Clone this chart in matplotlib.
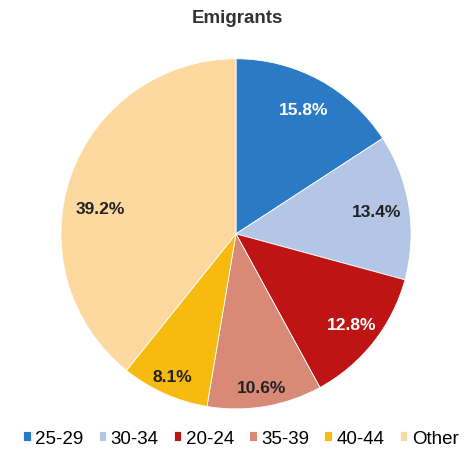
import numpy as np
import matplotlib.pyplot as plt

plt.rcParams['font.family'] = ['Liberation Sans', 'DejaVu Sans']

# Data
labels = ['25-29', '30-34', '20-24', '35-39', '40-44', 'Other']
shares = [15.8, 13.4, 12.8, 10.6, 8.1, 39.2]
colors = ['#2a7ac6', '#b3c6e6', '#bf1414', '#d98a76', '#f6bb0e', '#fdd9a0']
text_colors = ['white', '#222222', 'white', '#222222', '#222222', '#222222']
# label placement (fraction of radius, angle nudge in degrees)
label_dist = [0.81, 0.81, 0.84, 0.89, 0.89, 0.79]
label_nudge = [0, 0, 0, 0, 0, 9]

fig = plt.figure(figsize=(4.65, 4.56), dpi=100)
ax = fig.add_axes([0.131, 0.101, 0.753, 0.768])

wedges, texts, autotexts = ax.pie(
    shares, colors=colors, startangle=90, counterclock=False,
    autopct='%1.1f%%',
    wedgeprops=dict(edgecolor='white', linewidth=0.6),
    normalize=True)
for w, t, c, d, n in zip(wedges, autotexts, text_colors, label_dist, label_nudge):
    mid = np.deg2rad((w.theta1 + w.theta2) / 2 + n)
    t.set_position((d * np.cos(mid), d * np.sin(mid)))
    t.set_color(c)
    t.set_fontsize(12.5)
    t.set_fontweight('bold')
ax.set_xlim(-1, 1)
ax.set_ylim(-1, 1)
ax.set_aspect('equal')

fig.text(0.51, 0.96, 'Emigrants', ha='center', va='center',
         fontsize=13.5, fontweight='bold', color='#333333')

fig.legend(wedges, labels, loc='center', bbox_to_anchor=(0.518, 0.037),
           ncol=6, frameon=False, fontsize=13.5, handlelength=0.4,
           handleheight=0.4, handletextpad=0.25, columnspacing=0.8)

fig.savefig('out.png', dpi=100)
